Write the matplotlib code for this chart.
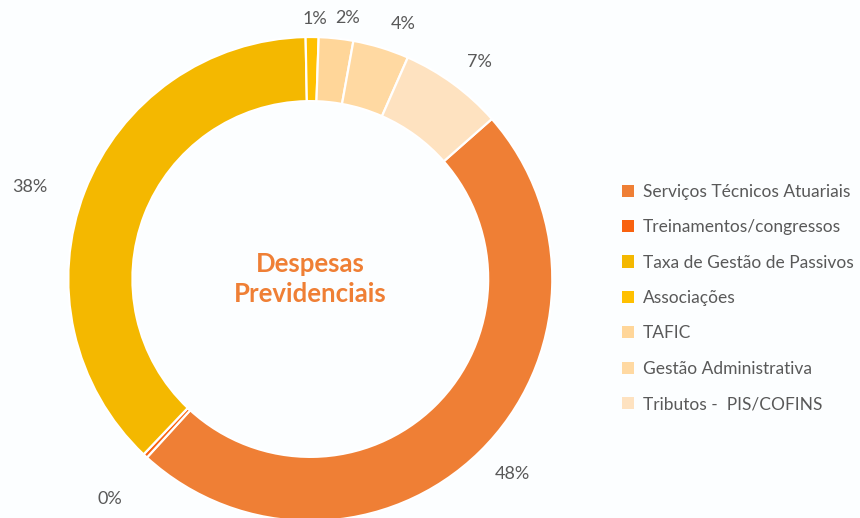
import numpy as np
import matplotlib.pyplot as plt
from matplotlib.patches import Patch

categorias = ["Serviços Técnicos Atuariais", "Treinamentos/congressos", "Taxa de Gestão de Passivos",
              "Associações", "TAFIC", "Gestão Administrativa", "Tributos -  PIS/COFINS"]
valores = [48.3, 0.3, 37.6, 0.86, 2.3, 3.75, 6.9]
rotulos = ["48%", "0%", "38%", "1%", "2%", "4%", "7%"]
cores = ["#EF7F35", "#F9620F", "#F4B800", "#FFC000", "#FFD699", "#FFD9A2", "#FEE2C0"]

plt.rcParams['font.family'] = ['Lato', 'DejaVu Sans']

fig = plt.figure(figsize=(8.6, 5.18), dpi=100, facecolor='#FCFEFF')
ax = fig.add_axes([0, 0, 1, 1])
ax.set_facecolor('#FCFEFF')

wedges, _ = ax.pie(valores, colors=cores, startangle=90 - 48.6, counterclock=False,
                   radius=1, wedgeprops=dict(width=0.265, edgecolor='white', linewidth=1.6))

# posicao do donut em pixels
R = 242.0
cx, cy = 310.3, 518 - 279
ax.set_xlim(-cx / R, (860 - cx) / R)
ax.set_ylim(-cy / R, (518 - cy) / R)
ax.set_aspect('equal')
ax.axis('off')

# distancia e ajuste de angulo dos rotulos (estilo Excel)
dist = [1.16, 1.23, 1.22, 1.075, 1.09, 1.12, 1.135]
ajuste = [1.5, 0.8, 3, -0.6, -2, -3, -1.7]
for w, txt, d, a in zip(wedges, rotulos, dist, ajuste):
    ang = np.deg2rad((w.theta1 + w.theta2) / 2 + a)
    ax.text(d * np.cos(ang), d * np.sin(ang), txt, ha='center', va='center',
            fontsize=13, color='#595959')

ax.text(0, 0, "Despesas\nPrevidenciais", ha='center', va='center', fontsize=18.5,
        fontweight='bold', color='#EF7F35', linespacing=1.35)

handles = [Patch(facecolor=c, edgecolor='none') for c in cores]
leg = fig.legend(handles, categorias, loc='upper left', bbox_to_anchor=(613 / 860, 1 - 175 / 518),
                 frameon=False, fontsize=12.5, handlelength=0.7, handleheight=0.7,
                 handletextpad=0.5, labelspacing=1.12, borderpad=0)
for t in leg.get_texts():
    t.set_color('#595959')

fig.savefig('out.png', dpi=100, facecolor=fig.get_facecolor())
